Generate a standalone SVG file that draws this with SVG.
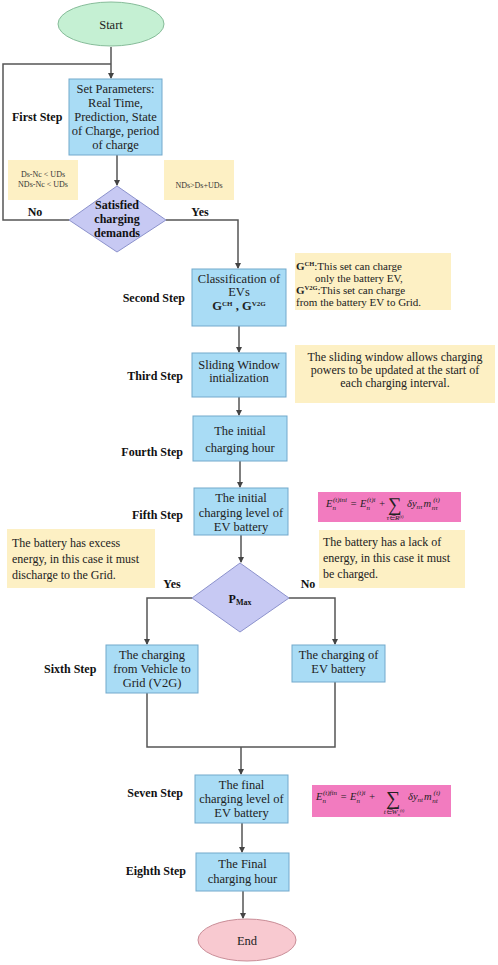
<svg xmlns="http://www.w3.org/2000/svg" width="498" height="965" viewBox="0 0 498 965">
<defs>
<marker id="ah" markerWidth="6" markerHeight="6" refX="5" refY="3" orient="auto" markerUnits="userSpaceOnUse">
<path d="M0,0 L6,3 L0,6 Z" fill="#444"/>
</marker>
<style>
.box{fill:#A9DCF5;stroke:#72A9CC;stroke-width:1}
.note{fill:#FDF0C4}
.pink{fill:#F27BBF}
.t{font-family:"Liberation Serif",serif;font-size:12.5px;fill:#222;text-anchor:middle}
.n{font-family:"Liberation Serif",serif;font-size:12px;fill:#222}
.n2{font-family:"Liberation Serif",serif;font-size:11px;fill:#222}
.s{font-family:"Liberation Serif",serif;font-size:8px;fill:#333;text-anchor:middle}
.lbl{font-family:"Liberation Serif",serif;font-weight:bold;font-size:12px;fill:#111}
.f{font-family:"Liberation Serif",serif;font-style:italic;font-size:10.5px;fill:#222}
.fs{font-family:"Liberation Serif",serif;font-style:italic;font-size:7px;fill:#222}
.c{fill:none;stroke:#555;stroke-width:1.5}
</style>
</defs>
<rect width="498" height="965" fill="#fff"/>

<g id="connectors">
<path class="c" d="M111,47 V78" marker-end="url(#ah)"/>
<path class="c" d="M69,220 H3 V64 H111"/>
<path class="c" d="M117,155 V185" marker-end="url(#ah)"/>
<path class="c" d="M166,220 H238 V268" marker-end="url(#ah)"/>
<path class="c" d="M239,326 V352" marker-end="url(#ah)"/>
<path class="c" d="M239,397 V415" marker-end="url(#ah)"/>
<path class="c" d="M240,461 V487" marker-end="url(#ah)"/>
<path class="c" d="M241,535 V562" marker-end="url(#ah)"/>
<path class="c" d="M192,598 H147 V644" marker-end="url(#ah)"/>
<path class="c" d="M289,598 H335 V644" marker-end="url(#ah)"/>
<path class="c" d="M147,693 V747 H335 V682"/>
<path class="c" d="M241,747 V774" marker-end="url(#ah)"/>
<path class="c" d="M242,823 V852" marker-end="url(#ah)"/>
<path class="c" d="M243,891 V918" marker-end="url(#ah)"/>
</g>

<g id="start">
<ellipse cx="111" cy="24" rx="53" ry="22" fill="#C5F0D3" stroke="#86BC99" stroke-width="1"/>
<text class="t" x="111" y="29">Start</text>
</g>

<g id="step1-label"><text class="lbl" x="12" y="121">First Step</text></g>
<g id="set-parameters">
<rect class="box" x="69" y="79" width="93" height="76"/>
<text class="t" x="115.5" y="93">Set Parameters:</text>
<text class="t" x="115.5" y="107">Real Time,</text>
<text class="t" x="115.5" y="121">Prediction, State</text>
<text class="t" x="115.5" y="135">of Charge, period</text>
<text class="t" x="115.5" y="149">of charge</text>
</g>

<g id="note-no">
<rect class="note" x="8" y="160" width="70" height="40"/>
<text class="s" x="43" y="177">Ds-Nc &lt; UDs</text>
<text class="s" x="43" y="187">NDs-Nc &lt; UDs</text>
</g>
<g id="note-yes">
<rect class="note" x="164" y="160" width="70" height="40"/>
<text class="s" x="199" y="188">NDs&gt;Ds+UDs</text>
</g>

<g id="satisfied">
<polygon points="117,186 166,220 117,252 69,220" fill="#C7C9F3" stroke="#8C92CC" stroke-width="1"/>
<text class="lbl" x="117" y="209" text-anchor="middle" fill="#333">Satisfied</text>
<text class="lbl" x="117" y="223" text-anchor="middle" fill="#333">charging</text>
<text class="lbl" x="117" y="237" text-anchor="middle" fill="#333">demands</text>
</g>
<text class="lbl" x="35" y="216" text-anchor="middle">No</text>
<text class="lbl" x="200" y="216" text-anchor="middle">Yes</text>

<g id="step2-label"><text class="lbl" x="185" y="302" text-anchor="end">Second Step</text></g>
<g id="classification">
<rect class="box" x="192" y="269" width="94" height="57"/>
<text class="t" x="239" y="283" font-size="11.5">Classification of</text>
<text class="t" x="239" y="296" font-size="11.5">EVs</text>
<text class="t" x="239" y="310" font-weight="bold" font-size="10.5">G<tspan font-size="7" dy="-4">CH</tspan><tspan dy="4"> , G</tspan><tspan font-size="7" dy="-4">V2G</tspan></text>
</g>
<g id="note-sets">
<rect class="note" x="295" y="253" width="156" height="57"/>
<text class="n2" x="296" y="270"><tspan font-weight="bold">G</tspan><tspan font-weight="bold" font-size="6.5" dy="-4">CH</tspan><tspan dy="4">:This set can charge</tspan></text>
<text class="n2" x="315" y="282">only the battery EV,</text>
<text class="n2" x="296" y="294"><tspan font-weight="bold">G</tspan><tspan font-weight="bold" font-size="6.5" dy="-4">V2G</tspan><tspan dy="4">:This set can charge</tspan></text>
<text class="n2" x="296" y="306">from the battery EV to Grid.</text>
</g>

<g id="step3-label"><text class="lbl" x="183" y="380" text-anchor="end">Third Step</text></g>
<g id="sliding-window">
<rect class="box" x="192" y="353" width="94" height="44"/>
<text class="t" x="239" y="369">Sliding Window</text>
<text class="t" x="239" y="382">intialization</text>
</g>
<g id="note-sliding">
<rect class="note" x="295" y="345" width="200" height="58"/>
<text class="n" x="395" y="361" text-anchor="middle">The sliding window allows charging</text>
<text class="n" x="395" y="374" text-anchor="middle">powers to be updated at the start of</text>
<text class="n" x="395" y="387" text-anchor="middle">each charging interval.</text>
</g>

<g id="step4-label"><text class="lbl" x="183" y="456" text-anchor="end">Fourth Step</text></g>
<g id="initial-hour">
<rect class="box" x="193" y="416" width="94" height="45"/>
<text class="t" x="240" y="435">The initial</text>
<text class="t" x="240" y="452">charging hour</text>
</g>

<g id="step5-label"><text class="lbl" x="183" y="519" text-anchor="end">Fifth Step</text></g>
<g id="initial-level">
<rect class="box" x="194" y="488" width="94" height="47"/>
<text class="t" x="241" y="502">The initial</text>
<text class="t" x="241" y="517">charging level of</text>
<text class="t" x="241" y="531">EV battery</text>
</g>
<g id="formula-ini">
<rect class="pink" x="318" y="492" width="143" height="30"/>
<text class="f" x="326" y="507">E<tspan class="fs" dy="3">n</tspan><tspan class="fs" dx="-3" dy="-8">(t)ini</tspan><tspan dy="5" dx="3">=</tspan><tspan dx="3">E</tspan><tspan class="fs" dy="3">n</tspan><tspan class="fs" dx="-3" dy="-8">(t)i</tspan><tspan dy="5" dx="3">+</tspan></text>
<text x="388" y="511" font-family="Liberation Serif,serif" font-size="19" fill="#222">∑</text>
<text class="fs" x="395" y="520" text-anchor="middle" font-size="6">τ∈R<tspan font-size="4.5" dy="-2">(t)</tspan></text>
<text class="f" x="407" y="507">δy<tspan class="fs" dy="2">nτ</tspan><tspan dy="-2" dx="1">m</tspan><tspan class="fs" dx="2" dy="-5">(t)</tspan><tspan class="fs" dx="-8" dy="8">nτ</tspan></text>
</g>

<g id="note-lack">
<rect class="note" x="319" y="530" width="146" height="58"/>
<text class="n" x="323" y="546">The battery has a lack of</text>
<text class="n" x="323" y="562">energy, in this case it must</text>
<text class="n" x="323" y="578">be charged.</text>
</g>
<g id="note-excess">
<rect class="note" x="7" y="529" width="148" height="59"/>
<text class="n" x="12" y="547">The battery has excess</text>
<text class="n" x="12" y="563">energy, in this case it must</text>
<text class="n" x="12" y="579">discharge to the Grid.</text>
</g>

<g id="pmax">
<polygon points="240,563 289,598 240,632 192,598" fill="#C7C9F3" stroke="#8C92CC" stroke-width="1"/>
<text class="lbl" x="240" y="603" text-anchor="middle" fill="#333">P<tspan font-size="8" dy="2">Max</tspan></text>
</g>
<text class="lbl" x="172" y="588" text-anchor="middle" font-size="10">Yes</text>
<text class="lbl" x="308" y="588" text-anchor="middle" font-size="10">No</text>

<g id="step6-label"><text class="lbl" x="44" y="673">Sixth Step</text></g>
<g id="v2g">
<rect class="box" x="106" y="645" width="92" height="48"/>
<text class="t" x="152" y="659">The charging</text>
<text class="t" x="152" y="673">from Vehicle to</text>
<text class="t" x="152" y="687">Grid (V2G)</text>
</g>
<g id="charging-ev">
<rect class="box" x="292" y="645" width="93" height="37"/>
<text class="t" x="338.5" y="659">The charging of</text>
<text class="t" x="338.5" y="673">EV battery</text>
</g>

<g id="step7-label"><text class="lbl" x="183" y="797" text-anchor="end">Seven Step</text></g>
<g id="final-level">
<rect class="box" x="195" y="775" width="93" height="48"/>
<text class="t" x="241.5" y="789">The final</text>
<text class="t" x="241.5" y="803">charging level of</text>
<text class="t" x="241.5" y="817">EV battery</text>
</g>
<g id="formula-fin">
<rect class="pink" x="312" y="785" width="139" height="32"/>
<text class="f" x="316" y="800">E<tspan class="fs" dy="3">n</tspan><tspan class="fs" dx="-3" dy="-8">(t)fin</tspan><tspan dy="5" dx="3">=</tspan><tspan dx="3">E</tspan><tspan class="fs" dy="3">n</tspan><tspan class="fs" dx="-3" dy="-8">(t)i</tspan><tspan dy="5" dx="3">+</tspan></text>
<text x="386" y="805" font-family="Liberation Serif,serif" font-size="20" fill="#222">∑</text>
<text class="fs" x="394" y="814" text-anchor="middle" font-size="6">t∈W<tspan font-size="4.5" dy="2">n</tspan><tspan font-size="4.5" dy="-4">(t)</tspan></text>
<text class="f" x="408" y="800">δy<tspan class="fs" dy="2">nt</tspan><tspan dy="-2" dx="1">m</tspan><tspan class="fs" dx="2" dy="-5">(t)</tspan><tspan class="fs" dx="-8" dy="8">nt</tspan></text>
</g>

<g id="step8-label"><text class="lbl" x="186" y="875" text-anchor="end">Eighth Step</text></g>
<g id="final-hour">
<rect class="box" x="196" y="853" width="93" height="38"/>
<text class="t" x="242.5" y="868">The Final</text>
<text class="t" x="242.5" y="883">charging hour</text>
</g>

<g id="end">
<ellipse cx="247" cy="940" rx="49" ry="21" fill="#F8C9D0" stroke="#C98D97" stroke-width="1"/>
<text class="t" x="247" y="945">End</text>
</g>
</svg>
